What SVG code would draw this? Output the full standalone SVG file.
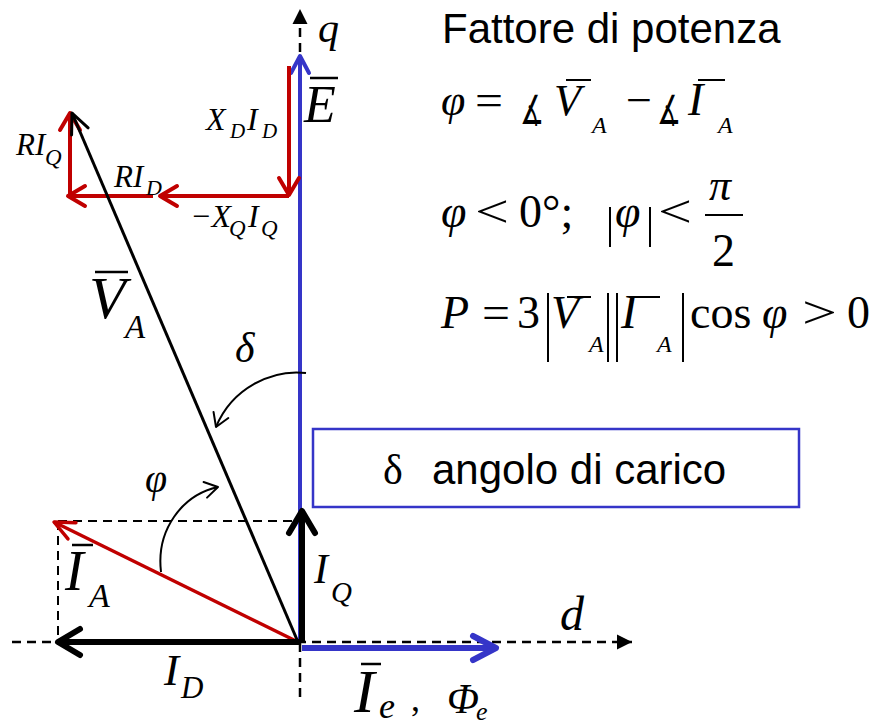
<svg xmlns="http://www.w3.org/2000/svg" width="871" height="725" viewBox="0 0 871 725">
<style>
.m{font-family:"Liberation Serif","Times New Roman",serif;font-style:italic;fill:#000}
.r{font-family:"Liberation Serif","Times New Roman",serif;fill:#000}
.s{font-family:"Liberation Sans",Arial,sans-serif;fill:#000}
.ang{font-family:"DejaVu Sans",sans-serif;fill:#000}
.ax{stroke:#000;stroke-width:2.5;stroke-dasharray:9 6;fill:none}
.dash{stroke:#000;stroke-width:2;stroke-dasharray:9 6;fill:none}
.bar{stroke:#000;stroke-width:2;fill:none}
.red{stroke:#c00000;stroke-width:4;fill:none}
.blue{stroke:#3535c8;stroke-width:4;fill:none}
.blk{stroke:#000;stroke-width:3;fill:none}
.thick{stroke:#000;stroke-width:6;fill:none}
.arc{stroke:#000;stroke-width:2;fill:none}
</style>
<defs>
<marker id="triK" markerUnits="userSpaceOnUse" markerWidth="20" markerHeight="20" viewBox="-16 -10 18 20" refX="0" refY="0" orient="auto"><path d="M-15,-7.5 L0,0 L-15,7.5 Z" fill="#000"/></marker>
<marker id="chR" markerUnits="userSpaceOnUse" markerWidth="34" markerHeight="34" viewBox="-26 -17 34 34" refX="0" refY="0" orient="auto"><path d="M-17,-10 L0,0 L-17,10" fill="none" stroke="#c00000" stroke-width="4" stroke-linecap="round" stroke-linejoin="round"/></marker>
<marker id="chRA" markerUnits="userSpaceOnUse" markerWidth="34" markerHeight="34" viewBox="-26 -17 34 34" refX="0" refY="0" orient="auto"><path d="M-20,-9 L0,0 L-20,9" fill="none" stroke="#c00000" stroke-width="3.5" stroke-linecap="round" stroke-linejoin="round"/></marker>
<marker id="chB" markerUnits="userSpaceOnUse" markerWidth="34" markerHeight="34" viewBox="-26 -17 34 34" refX="0" refY="0" orient="auto"><path d="M-17,-9 L0,0 L-17,9" fill="none" stroke="#3535c8" stroke-width="4" stroke-linecap="round" stroke-linejoin="round"/></marker>
<marker id="chBT" markerUnits="userSpaceOnUse" markerWidth="40" markerHeight="40" viewBox="-30 -20 40 40" refX="0" refY="0" orient="auto"><path d="M-23,-12 L0,0 L-23,12" fill="none" stroke="#3535c8" stroke-width="6" stroke-linecap="round" stroke-linejoin="round"/></marker>
<marker id="chK" markerUnits="userSpaceOnUse" markerWidth="34" markerHeight="34" viewBox="-26 -17 34 34" refX="0" refY="0" orient="auto"><path d="M-20,-9 L0,0 L-20,9" fill="none" stroke="#000" stroke-width="3" stroke-linecap="round" stroke-linejoin="round"/></marker>
<marker id="chKT" markerUnits="userSpaceOnUse" markerWidth="40" markerHeight="40" viewBox="-30 -20 40 40" refX="0" refY="0" orient="auto"><path d="M-22,-13 L0,0 L-22,13" fill="none" stroke="#000" stroke-width="6" stroke-linecap="round" stroke-linejoin="round"/></marker>
<marker id="chS" markerUnits="userSpaceOnUse" markerWidth="24" markerHeight="24" viewBox="-18 -12 24 24" refX="0" refY="0" orient="auto"><path d="M-13,-8 L0,0 L-13,8" fill="none" stroke="#000" stroke-width="2" stroke-linecap="round" stroke-linejoin="round"/></marker>
</defs>
<rect width="871" height="725" fill="#fff"/>

<g id="connectors">
  <g id="axis-q"><path class="ax" d="M300,697 V9" marker-end="url(#triK)"/></g>
  <g id="axis-d"><path class="ax" d="M12,642 H632" marker-end="url(#triK)"/></g>
  <g id="proj-lines">
    <path class="dash" d="M58,521 H298"/>
    <path class="dash" d="M58,521 V642"/>
  </g>
  <g id="vec-E"><path class="blue" d="M300,642 V56" marker-end="url(#chB)"/></g>
  <g id="vec-XDID"><path class="red" d="M289,66 V195" marker-end="url(#chR)"/></g>
  <g id="vec-XQIQ"><path class="red" d="M289,196 H160" marker-end="url(#chR)"/></g>
  <g id="vec-RID"><path class="red" d="M153,196 H68" marker-end="url(#chR)"/></g>
  <g id="vec-RIQ"><path class="red" d="M70,196 V113" marker-end="url(#chR)"/></g>
  <g id="vec-VA"><path class="blk" d="M298,642 L72,113" marker-end="url(#chK)"/></g>
  <g id="vec-IA"><path class="red" style="stroke-width:3.5" d="M298,642 L54,522" marker-end="url(#chRA)"/></g>
  <g id="vec-ID"><path class="thick" d="M300,642 H58" marker-end="url(#chKT)"/></g>
  <g id="vec-IQ"><path class="thick" d="M302,642 V511" marker-end="url(#chKT)"/></g>
  <g id="vec-Ie"><path class="blue" style="stroke-width:6" d="M302,648 H496" marker-end="url(#chBT)"/></g>
  <g id="arc-delta"><path class="arc" d="M306,373 C272,369 232,388 216,427" marker-end="url(#chS)"/></g>
  <g id="arc-phi"><path class="arc" d="M161,572 C156,530 182,495 218,487" marker-end="url(#chS)"/></g>
</g>

<g id="labels">
  <g id="lbl-q"><text class="m" x="318" y="42" font-size="42">q</text></g>
  <g id="lbl-d"><text class="m" x="560" y="630" font-size="48">d</text></g>
  <g id="lbl-E"><line class="bar" x1="310" y1="78" x2="338" y2="78" style="stroke-width:2.5"/><text class="m" x="304" y="122" font-size="52">E</text></g>
  <g id="lbl-XDID">
    <text class="m" x="206" y="130" font-size="32">X</text>
    <text class="m" x="230" y="138" font-size="21">D</text>
    <text class="m" x="247" y="130" font-size="32">I</text>
    <text class="m" x="262" y="138" font-size="21">D</text>
  </g>
  <g id="lbl-RIQ">
    <text class="m" x="16" y="155" font-size="31">RI</text>
    <text class="m" x="45" y="165" font-size="23">Q</text>
  </g>
  <g id="lbl-RID">
    <text class="m" x="114" y="187" font-size="31">RI</text>
    <text class="m" x="146" y="195" font-size="22">D</text>
  </g>
  <g id="lbl-XQIQ">
    <text class="m" x="190" y="227" font-size="32">−X</text>
    <text class="m" x="229" y="236" font-size="23">Q</text>
    <text class="m" x="248" y="227" font-size="32">I</text>
    <text class="m" x="261" y="236" font-size="23">Q</text>
  </g>
  <g id="lbl-VA">
    <line class="bar" x1="95" y1="272" x2="128" y2="272" style="stroke-width:2.5"/>
    <text class="m" x="89" y="318" font-size="60">V</text>
    <text class="m" x="125" y="338" font-size="33">A</text>
  </g>
  <g id="lbl-delta"><text class="m" x="235" y="362" font-size="42">δ</text></g>
  <g id="lbl-phi"><text class="m" x="145" y="492" font-size="40">φ</text></g>
  <g id="lbl-IA">
    <line class="bar" x1="72" y1="545" x2="93" y2="545" style="stroke-width:2.5"/>
    <text class="m" x="65" y="590" font-size="56">I</text>
    <text class="m" x="89" y="607" font-size="34">A</text>
  </g>
  <g id="lbl-ID">
    <text class="m" x="164" y="685" font-size="45">I</text>
    <text class="m" x="181" y="698" font-size="31">D</text>
  </g>
  <g id="lbl-IQ">
    <text class="m" x="314" y="583" font-size="42">I</text>
    <text class="m" x="331" y="602" font-size="29">Q</text>
  </g>
  <g id="lbl-Ie">
    <line class="bar" x1="361" y1="664" x2="381" y2="664" style="stroke-width:2.5"/>
    <text class="m" x="354" y="712" font-size="62">I</text>
    <text class="m" x="379" y="718" font-size="36">e</text>
    <text class="r" x="411" y="711" font-size="36">,</text>
    <text class="m" x="447" y="713" font-size="42">Φ</text>
    <text class="m" x="476" y="720" font-size="26">e</text>
  </g>
</g>

<g id="box-delta">
  <rect x="313" y="429" width="486" height="78" fill="#fff" stroke="#3535c8" stroke-width="2.5"/>
  <text class="s" font-size="42" y="484"><tspan x="383" font-family="Liberation Serif,serif">δ </tspan><tspan x="432">angolo di carico</tspan></text>
</g>

<g id="formulas">
  <text class="s" x="442" y="43" font-size="42">Fattore di potenza</text>
  <g id="f-phi">
    <text class="m" x="441" y="115" font-size="44">φ</text>
    <text class="r" x="475" y="115" font-size="44" textLength="28" lengthAdjust="spacingAndGlyphs">=</text>
    <text class="ang" x="520" y="124" font-size="40" textLength="24" lengthAdjust="spacingAndGlyphs">∡</text>
    <text class="m" x="554" y="115" font-size="44">V</text>
    <text class="m" x="592" y="133" font-size="24">A</text>
    <line class="bar" x1="566" y1="80" x2="591" y2="80"/>
    <text class="r" x="626" y="115" font-size="44" textLength="26" lengthAdjust="spacingAndGlyphs">−</text>
    <text class="ang" x="657" y="124" font-size="40" textLength="24" lengthAdjust="spacingAndGlyphs">∡</text>
    <text class="m" x="688" y="115" font-size="46">I</text>
    <text class="m" x="718" y="133" font-size="24">A</text>
    <line class="bar" x1="698" y1="80" x2="725" y2="80"/>
  </g>
  <g id="f-cond">
    <text class="m" x="441" y="227" font-size="46">φ</text>
    <text class="r" x="475" y="227" font-size="46" textLength="34" lengthAdjust="spacingAndGlyphs">&lt;</text>
    <text class="r" x="519" y="227" font-size="46">0°;</text>
    <line class="bar" x1="610" y1="207" x2="610" y2="247"/>
    <text class="m" x="615" y="227" font-size="46">φ</text>
    <line class="bar" x1="650" y1="207" x2="650" y2="247"/>
    <text class="r" x="658" y="227" font-size="46" textLength="34" lengthAdjust="spacingAndGlyphs">&lt;</text>
    <text class="m" x="709" y="200" font-size="44">π</text>
    <line class="bar" x1="705" y1="215" x2="743" y2="215"/>
    <text class="r" x="712" y="266" font-size="46">2</text>
  </g>
  <g id="f-P">
    <text class="m" x="441" y="328" font-size="46">P</text>
    <text class="r" x="482" y="328" font-size="46" textLength="28" lengthAdjust="spacingAndGlyphs">=</text>
    <text class="r" x="517" y="328" font-size="46">3</text>
    <line class="bar" x1="548" y1="293" x2="548" y2="362"/>
    <text class="m" x="551" y="328" font-size="46">V</text>
    <line class="bar" x1="567" y1="297" x2="591" y2="297"/>
    <text class="m" x="589" y="352" font-size="24">A</text>
    <line class="bar" x1="608" y1="293" x2="608" y2="362"/>
    <line class="bar" x1="617" y1="293" x2="617" y2="362"/>
    <text class="m" x="621" y="328" font-size="48">I</text>
    <line class="bar" x1="634" y1="297" x2="660" y2="297"/>
    <text class="m" x="657" y="352" font-size="24">A</text>
    <line class="bar" x1="683" y1="293" x2="683" y2="362"/>
    <text class="r" x="690" y="328" font-size="46">cos</text>
    <text class="m" x="762" y="328" font-size="46">φ</text>
    <text class="r" x="802" y="328" font-size="46" textLength="35" lengthAdjust="spacingAndGlyphs">&gt;</text>
    <text class="r" x="847" y="328" font-size="46">0</text>
  </g>
</g>
</svg>
